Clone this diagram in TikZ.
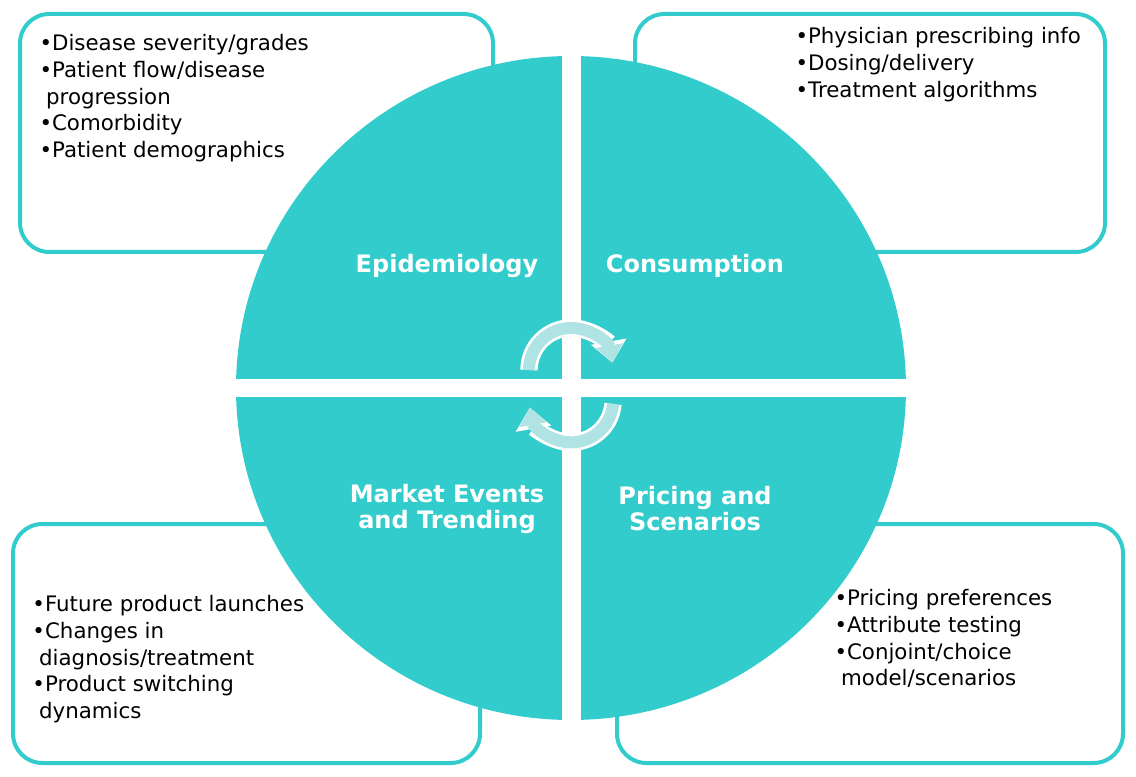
\documentclass[tikz,border=0pt]{standalone}
\usepackage{fontspec}
\setmainfont{DejaVu Sans}
\usetikzlibrary{arrows.meta}
\definecolor{teal1}{RGB}{51,204,204}
\definecolor{teal2}{RGB}{176,227,227}
\tikzset{every picture/.style={line width=0.75pt},
  infobox/.style={draw=teal1,line width=3pt,rounded corners=22pt},
  bullets/.style={anchor=north west,inner sep=0.75pt,align=left,font=\fontsize{16pt}{20pt}\selectfont},
  title/.style={text=white,align=center,font=\bfseries\fontsize{18pt}{19.5pt}\selectfont},
  cyclearrow/.style={line width=9pt,draw=teal2,-{Triangle[length=13pt,width=20pt]}},
  cycleedge/.style={line width=13pt,draw=white,-{Triangle[length=16pt,width=26pt]}}}
\begin{document}
\begin{tikzpicture}[x=0.75pt,y=0.75pt,yscale=-1,xscale=1]
	\useasboundingbox (0,0) rectangle (1136,777);

	%Shape: Rounded boxes
	\draw [infobox] (20,14) rectangle (493,252);
	\draw [infobox] (635,14) rectangle (1105,252);
	\draw [infobox] (13,524) rectangle (480,763);
	\draw [infobox] (617,524) rectangle (1123,763);

	%Shape: Circle split in four
	\fill [teal1] (571,388) ellipse (335 and 332);
	\fill [white] (562,40) rectangle (581,740);
	\fill [white] (220,379) rectangle (920,397);

	%Cycle arrows
	\draw [cycleedge] (529,370) arc (180:350:42);
	\draw [cyclearrow] (529,370) arc (180:350:42);
	\draw [cycleedge] (613,404) arc (5:170:42);
	\draw [cyclearrow] (613,404) arc (5:170:42);

	% Text Node
	\node (epi) [title] at (447,266) {Epidemiology};
	% Text Node
	\node (con) [title] at (695,266) {Consumption};
	% Text Node
	\node (mkt) [title] at (447,509) {Market Events\\and Trending};
	% Text Node
	\node (pri) [title] at (695,509) {Pricing and\\Scenarios};

	% Text Node
	\node (epilist) [bullets] at (38,33) {\textbullet Disease severity/grades\\\textbullet Patient flow/disease\\\hspace{5pt}progression\\\textbullet Comorbidity\\\textbullet Patient demographics};
	% Text Node
	\node (conlist) [bullets] at (794,26) {\textbullet Physician prescribing info\\\textbullet Dosing/delivery\\\textbullet Treatment algorithms};
	% Text Node
	\node (mktlist) [bullets] at (31,594) {\textbullet Future product launches\\\textbullet Changes in\\\hspace{5pt}diagnosis/treatment\\\textbullet Product switching\\\hspace{5pt}dynamics};
	% Text Node
	\node (prilist) [bullets] at (833,588) {\textbullet Pricing preferences\\\textbullet Attribute testing\\\textbullet Conjoint/choice\\\hspace{5pt}model/scenarios};
\end{tikzpicture}
\end{document}
